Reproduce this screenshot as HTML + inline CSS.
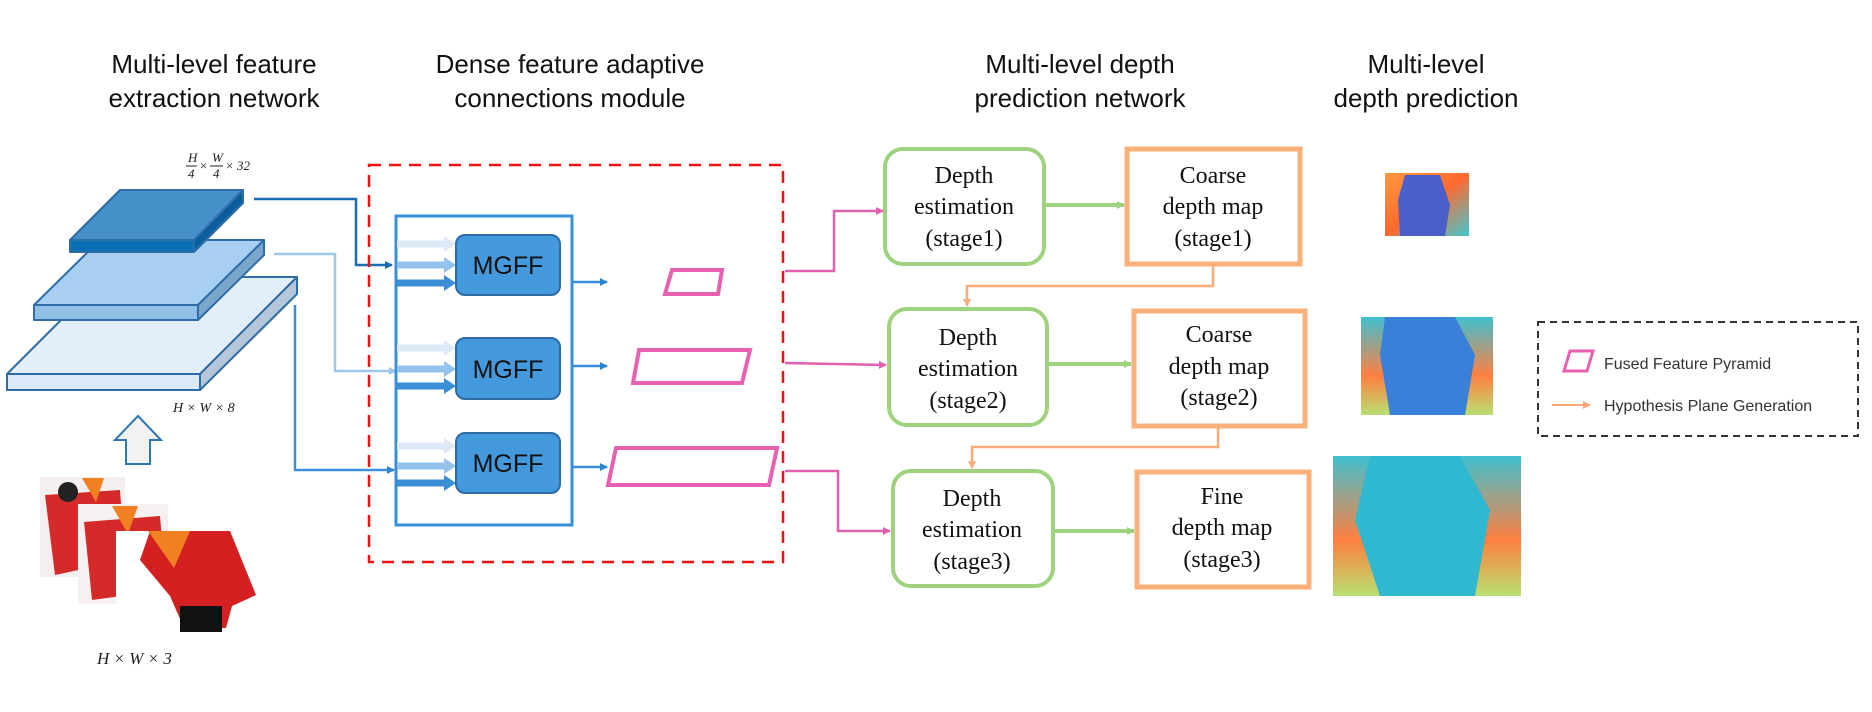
<!DOCTYPE html>
<html><head><meta charset="utf-8"><style>
html,body{margin:0;padding:0;background:#fff;}
svg{display:block;}
.t{font-family:"Liberation Sans",sans-serif;font-size:26px;fill:#111;text-anchor:middle;}
.s{font-family:"Liberation Serif",serif;font-size:24px;fill:#111;text-anchor:middle;}
.m{font-family:"Liberation Serif",serif;font-style:italic;fill:#222;}
.mg{font-family:"Liberation Sans",sans-serif;font-size:25px;fill:#111;text-anchor:middle;}
.lg{font-family:"Liberation Sans",sans-serif;font-size:16px;fill:#333;}
</style></head><body>
<svg width="1872" height="712" viewBox="0 0 1872 712" xmlns="http://www.w3.org/2000/svg">
<defs>
<marker id="ab" markerWidth="8" markerHeight="8" refX="7" refY="4" orient="auto" markerUnits="userSpaceOnUse"><path d="M0,0L8,4L0,8z" fill="#2e86d0"/></marker>
<marker id="ad" markerWidth="8" markerHeight="8" refX="7" refY="4" orient="auto" markerUnits="userSpaceOnUse"><path d="M0,0L8,4L0,8z" fill="#1a6eb0"/></marker>
<marker id="al" markerWidth="8" markerHeight="8" refX="7" refY="4" orient="auto" markerUnits="userSpaceOnUse"><path d="M0,0L8,4L0,8z" fill="#9dc8ee"/></marker>
<marker id="ap" markerWidth="8" markerHeight="8" refX="7" refY="4" orient="auto" markerUnits="userSpaceOnUse"><path d="M0,0L8,4L0,8z" fill="#e060b0"/></marker>
<marker id="ag" markerWidth="8" markerHeight="8" refX="7" refY="4" orient="auto" markerUnits="userSpaceOnUse"><path d="M0,0L8,4L0,8z" fill="#9fd27f"/></marker>
<marker id="ao" markerWidth="8" markerHeight="8" refX="7" refY="4" orient="auto" markerUnits="userSpaceOnUse"><path d="M0,0L8,4L0,8z" fill="#fbab78"/></marker>
<linearGradient id="d1" x1="0" y1="0" x2="1" y2="1"><stop offset="0" stop-color="#ff9a40"/><stop offset=".5" stop-color="#ff6a30"/><stop offset="1" stop-color="#40c8d0"/></linearGradient>
<linearGradient id="d2" x1="0" y1="0" x2="0" y2="1"><stop offset="0" stop-color="#40c0d0"/><stop offset=".6" stop-color="#ff8040"/><stop offset="1" stop-color="#b8e070"/></linearGradient>
</defs>

<text class="t" x="214" y="73">Multi-level feature</text>
<text class="t" x="214" y="107">extraction network</text>
<text class="t" x="570" y="73">Dense feature adaptive</text>
<text class="t" x="570" y="107">connections module</text>
<text class="t" x="1080" y="73">Multi-level depth</text>
<text class="t" x="1080" y="107">prediction network</text>
<text class="t" x="1426" y="73">Multi-level</text>
<text class="t" x="1426" y="107">depth prediction</text>

<g stroke="#2e6da8" stroke-width="2" stroke-linejoin="round">
<polygon points="104,277 297,277 200,374 7,374" fill="#e2eefa"/>
<polygon points="7,374 200,374 200,390 7,390" fill="#dce9f8"/>
<polygon points="200,374 297,277 297,294 200,390" fill="#b4c6d8"/>
<polygon points="100,240 264,240 198,305 34,305" fill="#a8cff0"/>
<polygon points="34,305 198,305 198,320 34,320" fill="#90c0e8"/>
<polygon points="198,305 264,240 264,255 198,320" fill="#7aa6cc"/>
<polygon points="120,190 243,190 194,240 70,240" fill="#4590c8"/>
<polygon points="70,240 194,240 194,252 70,252" fill="#0b6fb5"/>
<polygon points="194,240 243,190 243,203 194,252" fill="#0a5e9e"/>
</g>
<g class="m" font-size="13">
<text x="188" y="162">H</text><line x1="186" y1="166" x2="197" y2="166" stroke="#222"/><text x="188" y="178">4</text>
<text x="199" y="170">×</text>
<text x="212" y="162">W</text><line x1="210" y1="166" x2="223" y2="166" stroke="#222"/><text x="213" y="178">4</text>
<text x="225" y="170">× 32</text>
</g>
<text class="m" x="173" y="412" font-size="14">H × W × 8</text>
<text class="m" x="97" y="664" font-size="17">H × W × 3</text>
<polygon points="138,416 161,440 150,440 150,464 126,464 126,440 115,440" fill="#f2f2f2" stroke="#2e75b6" stroke-width="2"/>

<!-- photos -->
<rect x="40" y="477" width="85" height="100" fill="#f4eeee"/>
<path d="M45,495 L120,490 L125,560 L55,575 Z" fill="#d42a2a"/>
<circle cx="68" cy="492" r="10" fill="#222"/><polygon points="82,478 104,478 96,502" fill="#f08020"/>
<rect x="78" y="504" width="90" height="100" fill="#f6f0f0"/>
<path d="M84,522 L160,516 L166,590 L92,600 Z" fill="#d42a2a"/>
<polygon points="112,506 138,506 128,534" fill="#f08020"/>
<rect x="116" y="531" width="142" height="105" fill="#fff"/>
<path d="M150,531 L230,531 L256,595 L232,606 L226,628 L184,628 L170,596 L140,560 Z" fill="#d42020"/>
<polygon points="148,531 190,531 174,568" fill="#f08020"/>
<rect x="180" y="606" width="42" height="26" fill="#111"/>

<polyline points="254,199 356,199 356,265 392,265" fill="none" stroke="#1a6eb0" stroke-width="2.5" marker-end="url(#ad)"/>
<polyline points="274,254 335,254 335,371 396,371" fill="none" stroke="#9dc8ee" stroke-width="2.5" marker-end="url(#al)"/>
<polyline points="295,305 295,470 394,470" fill="none" stroke="#3a8fd6" stroke-width="2.5" marker-end="url(#ab)"/>

<rect x="369" y="165" width="414" height="397" fill="none" stroke="#f01010" stroke-width="2.5" stroke-dasharray="12,8"/>
<rect x="396" y="216" width="176" height="309" fill="none" stroke="#3a8fd6" stroke-width="3"/>

<g stroke-width="7">
<g stroke="#dde9f6"><line x1="397" y1="244" x2="446" y2="244"/><line x1="397" y1="348" x2="446" y2="348"/><line x1="397" y1="446" x2="446" y2="446"/></g>
<g stroke="#94c2ea"><line x1="397" y1="265" x2="446" y2="265"/><line x1="397" y1="369" x2="446" y2="369"/><line x1="397" y1="466" x2="446" y2="466"/></g>
<g stroke="#3a8fd6"><line x1="397" y1="283" x2="446" y2="283"/><line x1="397" y1="386" x2="446" y2="386"/><line x1="397" y1="483" x2="446" y2="483"/></g>
</g>
<g>
<polygon points="444,236 456,244 444,252" fill="#dde9f6"/><polygon points="444,340 456,348 444,356" fill="#dde9f6"/><polygon points="444,438 456,446 444,454" fill="#dde9f6"/>
<polygon points="444,257 456,265 444,273" fill="#94c2ea"/><polygon points="444,361 456,369 444,377" fill="#94c2ea"/><polygon points="444,458 456,466 444,474" fill="#94c2ea"/>
<polygon points="444,275 456,283 444,291" fill="#3a8fd6"/><polygon points="444,378 456,386 444,394" fill="#3a8fd6"/><polygon points="444,475 456,483 444,491" fill="#3a8fd6"/>
</g>
<g fill="#4499dd" stroke="#2e6ca8" stroke-width="2">
<rect x="456" y="235" width="104" height="60" rx="9"/>
<rect x="456" y="338" width="104" height="61" rx="9"/>
<rect x="456" y="433" width="104" height="60" rx="9"/>
</g>
<text class="mg" x="508" y="274">MGFF</text>
<text class="mg" x="508" y="378">MGFF</text>
<text class="mg" x="508" y="472">MGFF</text>
<g stroke="#3a8fd6" stroke-width="2.5" marker-end="url(#ab)">
<line x1="572" y1="282" x2="607" y2="282"/><line x1="572" y1="366" x2="607" y2="366"/><line x1="572" y1="467" x2="607" y2="467"/>
</g>
<g fill="none" stroke="#e860b0" stroke-width="4">
<polygon points="672,270 722,270 718,294 665,294"/>
<polygon points="639,350 750,350 742,383 633,383"/>
<polygon points="616,448 777,448 769,485 608,485"/>
</g>

<g fill="none" stroke="#e060b0" stroke-width="2.5" marker-end="url(#ap)">
<polyline points="785,271 834,271 834,211 883,211"/>
<polyline points="785,363 886,365"/>
<polyline points="785,471 838,471 838,531 890,531"/>
</g>

<g fill="#fff" stroke="#9fd27f" stroke-width="4">
<rect x="885" y="149" width="159" height="115" rx="18"/>
<rect x="889" y="309" width="158" height="116" rx="18"/>
<rect x="893" y="471" width="160" height="115" rx="18"/>
</g>
<g fill="#fff" stroke="#fbb07a" stroke-width="5">
<rect x="1127" y="149" width="173" height="115"/>
<rect x="1134" y="311" width="171" height="115"/>
<rect x="1137" y="472" width="172" height="115"/>
</g>
<g class="s">
<text x="964" y="183">Depth</text><text x="964" y="214">estimation</text><text x="964" y="246">(stage1)</text>
<text x="968" y="345">Depth</text><text x="968" y="376">estimation</text><text x="968" y="408">(stage2)</text>
<text x="972" y="506">Depth</text><text x="972" y="537">estimation</text><text x="972" y="569">(stage3)</text>
<text x="1213" y="183">Coarse</text><text x="1213" y="214">depth map</text><text x="1213" y="246">(stage1)</text>
<text x="1219" y="342">Coarse</text><text x="1219" y="374">depth map</text><text x="1219" y="405">(stage2)</text>
<text x="1222" y="504">Fine</text><text x="1222" y="535">depth map</text><text x="1222" y="567">(stage3)</text>
</g>
<g stroke="#9fd27f" stroke-width="4" marker-end="url(#ag)">
<line x1="1046" y1="205" x2="1124" y2="205"/><line x1="1049" y1="364" x2="1131" y2="364"/><line x1="1055" y1="531" x2="1134" y2="531"/>
</g>
<g fill="none" stroke="#fbab78" stroke-width="2.5" marker-end="url(#ao)">
<polyline points="1213,266 1213,286 967,286 967,306"/>
<polyline points="1218,428 1218,447 972,447 972,468"/>
</g>

<rect x="1385" y="173" width="84" height="63" fill="url(#d1)"/>
<path d="M1405,175 L1440,175 L1450,205 L1445,236 L1400,236 L1398,200 Z" fill="#4a5fc8"/>
<rect x="1361" y="317" width="132" height="98" fill="url(#d2)"/>
<path d="M1385,317 L1455,317 L1475,355 L1465,415 L1390,415 L1380,355 Z" fill="#3a80d8"/>
<rect x="1333" y="456" width="188" height="140" fill="url(#d2)"/>
<path d="M1370,456 L1460,456 L1490,510 L1475,596 L1380,596 L1355,520 Z" fill="#30b8d0"/>

<rect x="1538" y="322" width="320" height="114" fill="none" stroke="#333" stroke-width="2" stroke-dasharray="7,5"/>
<polygon points="1570,351 1593,351 1587,371 1564,371" fill="none" stroke="#e860b0" stroke-width="3"/>
<text class="lg" x="1604" y="369">Fused Feature Pyramid</text>
<line x1="1552" y1="405" x2="1590" y2="405" stroke="#fbab78" stroke-width="2" marker-end="url(#ao)"/>
<text class="lg" x="1604" y="411">Hypothesis Plane Generation</text>
</svg>
</body></html>
